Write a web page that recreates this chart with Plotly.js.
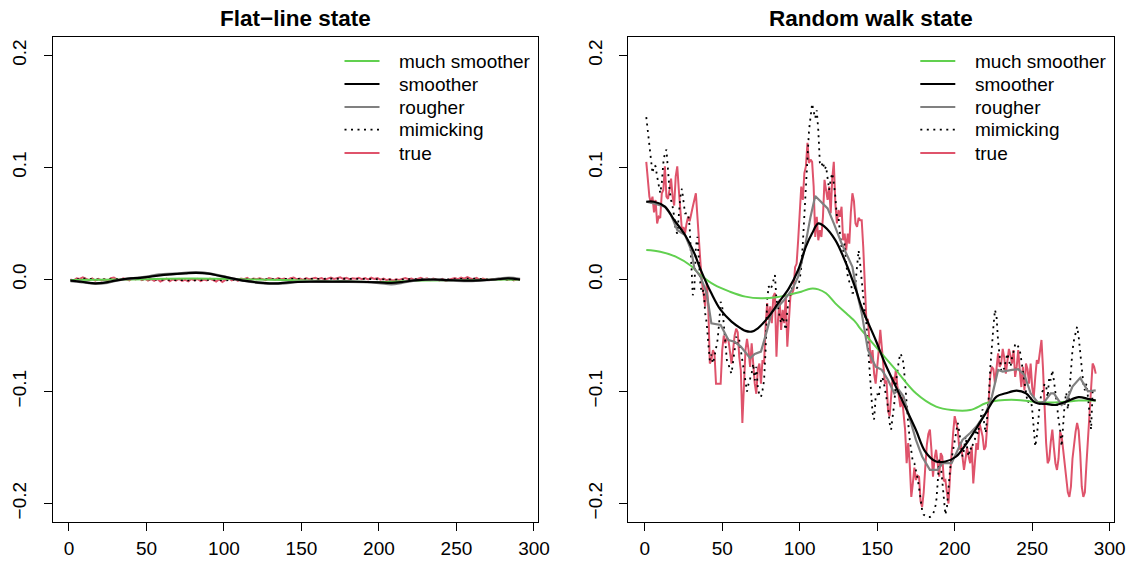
<!DOCTYPE html>
<html><head><meta charset="utf-8">
<script src="https://cdn.plot.ly/plotly-3.0.1.min.js"></script>
<style>html,body{margin:0;padding:0;background:#fff}</style>
</head><body><div id="chart" style="width:1133px;height:572px"></div>
<script>
// ---------------- DATA ----------------
const panelTitles = ['Flat\u2212line state', 'Random walk state'];
const seriesNames = ['much smoother', 'smoother', 'rougher', 'mimicking', 'true'];
const xTicks = [0, 50, 100, 150, 200, 250, 300];
const xTickText = ['0', '50', '100', '150', '200', '250', '300'];
const yTicks = [-0.2, -0.1, 0, 0.1, 0.2];
const yTickText = ['\u22120.2', '\u22120.1', '0.0', '0.1', '0.2'];

// ----- Flat-line state panel -----
const flatMuchX = [1, 40, 80, 120, 160, 200, 230, 260, 291];
const flatMuchY = [-0.0005, 0.0, 0.0008, 0.0, -0.0012, -0.0022, -0.0008, -0.0005, 0.0];
const flatSmoothX = [1, 8, 15, 22, 30, 38, 46, 55, 65, 75, 82, 90, 98, 106, 115, 125, 133, 142, 155, 170, 185, 200, 208, 216, 225, 235, 245, 255, 265, 275, 283, 291];
const flatSmoothY = [-0.001, -0.002, -0.0033, -0.003, -0.001, 0.0008, 0.0015, 0.003, 0.0045, 0.0055, 0.006, 0.0052, 0.003, 0.0008, -0.0015, -0.003, -0.0035, -0.0025, -0.002, -0.002, -0.002, -0.0025, -0.003, -0.002, -0.0005, 0.0, -0.0005, -0.001, -0.0008, 0.0, 0.001, 0.0];
const flatRoughX = [1, 10, 17, 25, 32, 40, 50, 58, 68, 78, 86, 94, 102, 110, 120, 130, 138, 148, 160, 175, 190, 200, 208, 215, 222, 230, 240, 250, 260, 270, 278, 284, 291];
const flatRoughY = [-0.0012, -0.0025, -0.0038, -0.0028, -0.0005, 0.001, 0.0025, 0.0045, 0.005, 0.0063, 0.0062, 0.0045, 0.002, -0.0005, -0.0025, -0.0038, -0.0035, -0.002, -0.0018, -0.002, -0.0022, -0.003, -0.0042, -0.0028, -0.001, 0.0, -0.0003, -0.001, -0.0012, -0.0005, 0.0008, 0.0015, 0.0005];
const flatMimicX = [1, 10, 20, 30, 40, 50, 60, 70, 80, 90, 100, 110, 120, 130, 140, 150, 160, 170, 180, 190, 200, 210, 220, 230, 240, 250, 260, 270, 280, 291];
const flatMimicY = [-0.0005, 0.0008, 0.0, 0.0006, 0.0004, 0.0002, -0.0006, -0.0003, -0.0008, -0.0002, -0.0008, 0.0002, 0.0004, 0.0005, 0.0003, 0.0004, 0.0006, 0.0007, 0.0008, 0.0006, 0.0002, -0.0003, 0.0003, 0.0005, -0.0002, 0.0004, 0.0009, 0.0002, 0.0003, -0.0002];
// true series sampled at every second time step (t = 1, 3, 5, ..., 291)
const flatTrueY = [
  0.000, -0.001, 0.001, 0.0005, 0.002, 0.0005, -0.0005, 0.001, -0.001, 0.0005,
  -0.0008, 0.0003, -0.0015, 0.0012, 0.0018, 0.0002, -0.0006, 0.001, 0.0004, -0.0008,
  0.0012, 0.0, 0.0015, -0.0005, 0.0008, -0.001, 0.0003, -0.0012, 0.0005, -0.0018,
  -0.0005, 0.0008, -0.0015, 0.0002, -0.001, 0.0006, -0.0012, -0.0003, -0.0016, 0.0004,
  -0.0008, 0.0006, -0.0014, 0.0, -0.0009, 0.0007, -0.0006, -0.0018, 0.0003, -0.0022,
  -0.0004, 0.0012, -0.0007, 0.0004, -0.0012, 0.0008, 0.0002, 0.0014, -0.0004, 0.0009,
  0.0002, 0.0011, 0.0003, -0.0006, 0.0012, 0.0004, -0.0002, 0.0013, 0.0003, 0.0009,
  -0.0003, 0.0011, 0.0018, 0.0002, 0.0009, -0.0004, 0.0012, 0.0003, 0.0008, 0.0016,
  0.0004, 0.0013, -0.0002, 0.0009, 0.0017, 0.0005, 0.0012, 0.002, 0.0006, 0.0014,
  0.0002, 0.0011, 0.0007, 0.0015, 0.0003, 0.0012, 0.0, 0.0016, 0.0005, 0.0012,
  -0.0002, 0.0008, -0.0006, 0.0004, -0.001, 0.0002, -0.0005, 0.0007, 0.0013, 0.0002,
  0.0009, -0.0004, 0.0006, 0.0015, 0.0003, 0.001, -0.0006, 0.0008, 0.0001, -0.0009,
  0.0005, -0.0012, -0.0002, 0.0006, 0.0012, 0.0003, 0.0018, 0.0008, 0.0022, 0.001,
  0.0003, 0.0014, -0.0003, 0.0009, 0.0002, -0.0006, 0.0004, -0.0002, 0.0007, 0.0001,
  0.0008, -0.0004, 0.0006, -0.0009, 0.0003, -0.0006
];

// ----- Random walk state panel -----
const rwMuchX = [1, 10, 20, 30, 36, 45, 55, 65, 75, 85, 95, 101, 107, 112, 117, 123, 130, 136, 139, 149, 162, 175, 188, 198, 210, 220, 228, 240, 250, 261, 272, 280, 291];
const rwMuchY = [0.0263, 0.0248, 0.0204, 0.0120, 0.0040, -0.0049, -0.0109, -0.0153, -0.0168, -0.0159, -0.0129, -0.0109, -0.0082, -0.0088, -0.0123, -0.0213, -0.0302, -0.0380, -0.0436, -0.0599, -0.0807, -0.1016, -0.1135, -0.1165, -0.1165, -0.1105, -0.1081, -0.1075, -0.1090, -0.1099, -0.1090, -0.1081, -0.1080];
const rwSmoothX = [1, 6, 13, 19, 26, 32, 36, 43, 49, 56, 62, 65, 69, 73, 80, 86, 93, 99, 104, 108, 112, 116, 123, 129, 136, 140, 149, 155, 162, 168, 175, 181, 188, 194, 201, 207, 214, 220, 227, 233, 240, 246, 252, 259, 265, 272, 280, 286, 291];
const rwSmoothY = [0.0694, 0.0694, 0.0650, 0.0531, 0.0397, 0.0234, 0.0091, -0.0123, -0.0272, -0.0376, -0.0436, -0.0459, -0.0465, -0.0436, -0.0331, -0.0213, -0.0079, 0.0085, 0.0293, 0.0412, 0.0501, 0.0472, 0.0352, 0.0174, -0.0080, -0.0250, -0.0540, -0.0748, -0.0956, -0.1135, -0.1343, -0.1536, -0.1625, -0.1625, -0.1580, -0.1476, -0.1328, -0.1194, -0.1045, -0.1016, -0.0992, -0.1016, -0.1099, -0.1111, -0.1120, -0.1090, -0.1050, -0.1065, -0.1080];
const rwRoughX = [1, 6, 13, 17, 21, 26, 30, 32, 36, 40, 43, 49, 54, 58, 62, 68, 71, 75, 79, 82, 86, 90, 95, 99, 103, 107, 110, 114, 118, 122, 127, 134, 137, 140, 144, 149, 153, 157, 161, 164, 167, 170, 175, 179, 184, 189, 192, 198, 205, 210, 214, 220, 224, 228, 231, 237, 241, 245, 249, 254, 258, 262, 264, 269, 272, 276, 281, 286, 291];
const rwRoughY = [0.0694, 0.0679, 0.0650, 0.0576, 0.0442, 0.0397, 0.0263, 0.0100, 0.0025, -0.0123, -0.0391, -0.0406, -0.0540, -0.0555, -0.0599, -0.0703, -0.0665, -0.0644, -0.0450, -0.0287, -0.0242, -0.0183, -0.0094, 0.0025, 0.0263, 0.0561, 0.0745, 0.0694, 0.0635, 0.0501, 0.0323, 0.0114, -0.0120, -0.0300, -0.0629, -0.0778, -0.0807, -0.0897, -0.1016, -0.0986, -0.1045, -0.1194, -0.1432, -0.1580, -0.1699, -0.1699, -0.1640, -0.1640, -0.1432, -0.1370, -0.1313, -0.1194, -0.1045, -0.0807, -0.0822, -0.0807, -0.0801, -0.0852, -0.1016, -0.1105, -0.1090, -0.1016, -0.1016, -0.1120, -0.1090, -0.0956, -0.0878, -0.0998, -0.0989];
// true and mimicking: one value per time step t = 1..291
const rwTrueY = [
  0.105, 0.086, 0.074, 0.068, 0.074, 0.060, 0.071, 0.050, 0.056, 0.055,
  0.077, 0.080, 0.101, 0.074, 0.072, 0.080, 0.090, 0.074, 0.066, 0.092,
  0.101, 0.080, 0.058, 0.044, 0.047, 0.041, 0.050, 0.056, 0.052, 0.060,
  0.065, 0.071, 0.077, 0.056, 0.032, 0.014, -0.003, -0.015, -0.024, -0.003,
  -0.024, -0.075, -0.072, -0.063, -0.066, -0.093, -0.093, -0.093, -0.093, -0.063,
  -0.050, -0.057, -0.052, -0.054, -0.063, -0.075, -0.063, -0.050, -0.044, -0.047,
  -0.069, -0.081, -0.128, -0.099, -0.063, -0.053, -0.063, -0.078, -0.057, -0.075,
  -0.093, -0.102, -0.080, -0.075, -0.093, -0.072, -0.075, -0.042, -0.021, -0.036,
  -0.024, -0.039, -0.015, -0.012, -0.069, -0.036, -0.018, -0.045, -0.027, -0.039,
  -0.015, -0.060, -0.036, -0.015, -0.013, -0.009, 0.011, 0.014, 0.035, 0.056,
  0.083, 0.071, 0.095, 0.101, 0.122, 0.104, 0.107, 0.105, 0.083, 0.038,
  0.056, 0.035, 0.044, 0.038, 0.056, 0.089, 0.080, 0.071, 0.083, 0.059,
  0.090, 0.105, 0.068, 0.050, 0.062, 0.056, 0.065, 0.035, 0.041, 0.026,
  0.041, 0.032, 0.060, 0.077, 0.070, 0.050, 0.047, 0.055, 0.053, 0.053,
  0.029, -0.003, -0.036, -0.036, -0.054, -0.075, -0.063, -0.084, -0.093, -0.080,
  -0.063, -0.045, -0.063, -0.078, -0.093, -0.090, -0.117, -0.122, -0.099, -0.087,
  -0.093, -0.081, -0.095, -0.105, -0.114, -0.105, -0.117, -0.134, -0.164, -0.146,
  -0.165, -0.194, -0.182, -0.168, -0.179, -0.175, -0.176, -0.198, -0.203, -0.190,
  -0.168, -0.148, -0.138, -0.134, -0.152, -0.176, -0.160, -0.152, -0.164, -0.176,
  -0.155, -0.158, -0.180, -0.179, -0.190, -0.200, -0.175, -0.150, -0.137, -0.122,
  -0.128, -0.134, -0.152, -0.146, -0.158, -0.170, -0.160, -0.150, -0.158, -0.164,
  -0.149, -0.182, -0.164, -0.146, -0.152, -0.128, -0.134, -0.140, -0.152, -0.149,
  -0.130, -0.110, -0.085, -0.078, -0.080, -0.093, -0.081, -0.066, -0.078, -0.075,
  -0.062, -0.070, -0.084, -0.074, -0.062, -0.068, -0.075, -0.063, -0.087, -0.078,
  -0.063, -0.081, -0.096, -0.078, -0.099, -0.075, -0.080, -0.093, -0.075, -0.096,
  -0.105, -0.087, -0.072, -0.075, -0.063, -0.054, -0.080, -0.115, -0.146, -0.164,
  -0.161, -0.145, -0.134, -0.150, -0.164, -0.170, -0.160, -0.136, -0.140, -0.152,
  -0.165, -0.178, -0.190, -0.194, -0.185, -0.160, -0.145, -0.136, -0.128, -0.135,
  -0.155, -0.185, -0.194, -0.190, -0.165, -0.140, -0.117, -0.093, -0.075, -0.078, -0.084
];
const rwMimicY = [
  0.145, 0.133, 0.122, 0.107, 0.095, 0.102, 0.101, 0.092, 0.083, 0.077,
  0.086, 0.104, 0.113, 0.116, 0.098, 0.080, 0.071, 0.065, 0.056, 0.044,
  0.041, 0.056, 0.074, 0.081, 0.071, 0.059, 0.059, 0.059, 0.047, 0.014,
  -0.014, -0.009, 0.029, 0.038, 0.009, -0.006, -0.012, -0.009, -0.030, -0.039,
  -0.057, -0.072, -0.067, -0.075, -0.069, -0.060, -0.054, -0.039, -0.020, -0.024,
  -0.039, -0.060, -0.072, -0.075, -0.081, -0.084, -0.075, -0.063, -0.051, -0.058,
  -0.054, -0.063, -0.075, -0.084, -0.090, -0.100, -0.093, -0.088, -0.084, -0.075,
  -0.090, -0.078, -0.097, -0.103, -0.105, -0.099, -0.090, -0.063, -0.018, -0.006,
  -0.009, -0.006, 0.000, 0.004, -0.018, -0.024, -0.033, -0.039, -0.033, -0.039,
  -0.045, -0.027, -0.018, -0.012, -0.008, -0.006, -0.003, -0.008, -0.006, 0.000,
  0.011, 0.032, 0.056, 0.080, 0.104, 0.133, 0.145, 0.157, 0.150, 0.144,
  0.151, 0.133, 0.104, 0.101, 0.105, 0.098, 0.101, 0.092, 0.080, 0.089,
  0.095, 0.086, 0.074, 0.056, 0.056, 0.041, 0.029, 0.025, 0.032, 0.014,
  0.003, -0.002, -0.003, -0.012, -0.012, -0.003, 0.014, 0.026, 0.014, -0.003,
  -0.015, -0.030, -0.039, -0.060, -0.072, -0.099, -0.119, -0.125, -0.105, -0.102,
  -0.105, -0.093, -0.087, -0.090, -0.099, -0.105, -0.114, -0.128, -0.134, -0.122,
  -0.111, -0.093, -0.081, -0.072, -0.066, -0.069, -0.075, -0.096, -0.114, -0.128,
  -0.143, -0.155, -0.163, -0.164, -0.170, -0.177, -0.186, -0.195, -0.206, -0.210,
  -0.211, -0.212, -0.212, -0.212, -0.211, -0.210, -0.205, -0.200, -0.182, -0.161,
  -0.165, -0.179, -0.190, -0.210, -0.203, -0.182, -0.170, -0.160, -0.152, -0.143,
  -0.134, -0.128, -0.136, -0.149, -0.158, -0.152, -0.140, -0.150, -0.158, -0.150,
  -0.152, -0.145, -0.143, -0.134, -0.138, -0.128, -0.122, -0.116, -0.128, -0.137,
  -0.122, -0.105, -0.078, -0.057, -0.042, -0.027, -0.033, -0.055, -0.069, -0.081,
  -0.078, -0.080, -0.072, -0.066, -0.072, -0.078, -0.070, -0.063, -0.058, -0.057,
  -0.060, -0.063, -0.072, -0.081, -0.093, -0.102, -0.110, -0.108, -0.105, -0.116,
  -0.131, -0.149, -0.140, -0.122, -0.110, -0.101, -0.099, -0.093, -0.095, -0.105,
  -0.087, -0.090, -0.081, -0.090, -0.100, -0.112, -0.125, -0.134, -0.149, -0.128,
  -0.110, -0.101, -0.116, -0.101, -0.078, -0.063, -0.054, -0.047, -0.042, -0.051,
  -0.066, -0.080, -0.093, -0.099, -0.093, -0.105, -0.122, -0.134, -0.100, -0.099, -0.101
];

// time index (positions on the x axis)
const timeIdx = Array.from({length: rwTrueY.length}, (_, i) => i + 1);
const flatTrueX = Array.from({length: flatTrueY.length}, (_, i) => 1 + 2 * i);

// ---------------- STYLE / LAYOUT ----------------
const FONT = '"Liberation Sans", Arial, Helvetica, sans-serif';
const C_GREEN = '#61D04F', C_BLACK = '#000000', C_GRAY = '#808080', C_RED = '#DF536B';
const DOT = '2px,4.5px';
const W = 1133, H = 572;
const PX = v => v / W, PY = v => 1 - v / H;

function line(x, y, xa, ya, color, width, dash, shape) {
  return {type: 'scatter', mode: 'lines', x: x, y: y, xaxis: xa, yaxis: ya,
    line: {color: color, width: width, dash: dash || 'solid', shape: shape || 'linear'},
    hoverinfo: 'skip', showlegend: false};
}

const traces = [
  line(flatTrueX, flatTrueY, 'x', 'y', C_RED, 2),
  line(flatMimicX, flatMimicY, 'x', 'y', C_BLACK, 1.8, DOT),
  line(flatMuchX, flatMuchY, 'x', 'y', C_GREEN, 2, null, 'spline'),
  line(flatRoughX, flatRoughY, 'x', 'y', C_GRAY, 2.6, null, 'spline'),
  line(flatSmoothX, flatSmoothY, 'x', 'y', C_BLACK, 2.2, null, 'spline'),
  line(timeIdx, rwTrueY, 'x2', 'y2', C_RED, 2),
  line(timeIdx, rwMimicY, 'x2', 'y2', C_BLACK, 1.8, DOT),
  line(rwMuchX, rwMuchY, 'x2', 'y2', C_GREEN, 2, null, 'spline'),
  line(rwRoughX, rwRoughY, 'x2', 'y2', C_GRAY, 2.2),
  line(rwSmoothX, rwSmoothY, 'x2', 'y2', C_BLACK, 2.2, null, 'spline')
];

const box = {left: [52.5, 538], right: [628.3, 1113.7], top: 37.3, bottom: 521.7};
const axBase = {
  showgrid: false, zeroline: false, showline: true, mirror: true,
  linecolor: '#000', linewidth: 1, ticks: 'outside', ticklen: 8, tickwidth: 1,
  tickcolor: '#000', tickfont: {family: FONT, size: 19, color: '#000'},
  fixedrange: true, automargin: false
};
function xax(dom, anchor) {
  return Object.assign({}, axBase, {domain: [PX(dom[0]), PX(dom[1])], range: [-10.6, 302.6],
    tickmode: 'array', tickvals: xTicks, ticktext: xTickText, anchor: anchor, ticklabelstandoff: 1});
}
function yax(anchor) {
  return Object.assign({}, axBase, {domain: [PY(box.bottom), PY(box.top)], range: [-0.2162, 0.2162],
    tickmode: 'array', tickvals: yTicks, ticktext: yTickText, tickangle: -90, anchor: anchor, ticklabelstandoff: 10});
}

const legendRows = [61, 84, 107, 129.7, 153];
const legendStyle = [
  {color: C_GREEN, width: 2, dash: 'solid'},
  {color: C_BLACK, width: 2.2, dash: 'solid'},
  {color: C_GRAY, width: 2.2, dash: 'solid'},
  {color: C_BLACK, width: 1.8, dash: DOT},
  {color: C_RED, width: 2, dash: 'solid'}
];
const shapes = [], annotations = [];
[[box.left[0], 0], [box.right[0], 1]].forEach(([bx, p]) => {
  legendRows.forEach((ry, i) => {
    shapes.push({type: 'line', xref: 'paper', yref: 'paper',
      x0: PX(bx + 292), x1: PX(bx + 327), y0: PY(ry), y1: PY(ry), line: legendStyle[i]});
    annotations.push({xref: 'paper', yref: 'paper', x: PX(bx + 344.5), y: PY(ry),
      xanchor: 'left', yanchor: 'middle', showarrow: false, text: seriesNames[i],
      font: {family: FONT, size: 19, color: '#000'}});
  });
  const cx = p === 0 ? (box.left[0] + box.left[1]) / 2 : (box.right[0] + box.right[1]) / 2;
  annotations.push({xref: 'paper', yref: 'paper', x: PX(cx), y: PY(18.5), xanchor: 'center', yanchor: 'middle',
    showarrow: false, text: '<b>' + panelTitles[p] + '</b>', font: {family: FONT, size: 22.5, color: '#000'}});
});

const layout = {
  width: W, height: H, margin: {l: 0, r: 0, t: 0, b: 0},
  paper_bgcolor: '#fff', plot_bgcolor: '#fff', showlegend: false,
  font: {family: FONT, color: '#000'},
  xaxis: xax(box.left, 'y'), yaxis: yax('x'),
  xaxis2: xax(box.right, 'y2'), yaxis2: yax('x2'),
  shapes: shapes, annotations: annotations
};
Plotly.newPlot('chart', traces, layout, {displayModeBar: false, staticPlot: true});
</script>
</body></html>
